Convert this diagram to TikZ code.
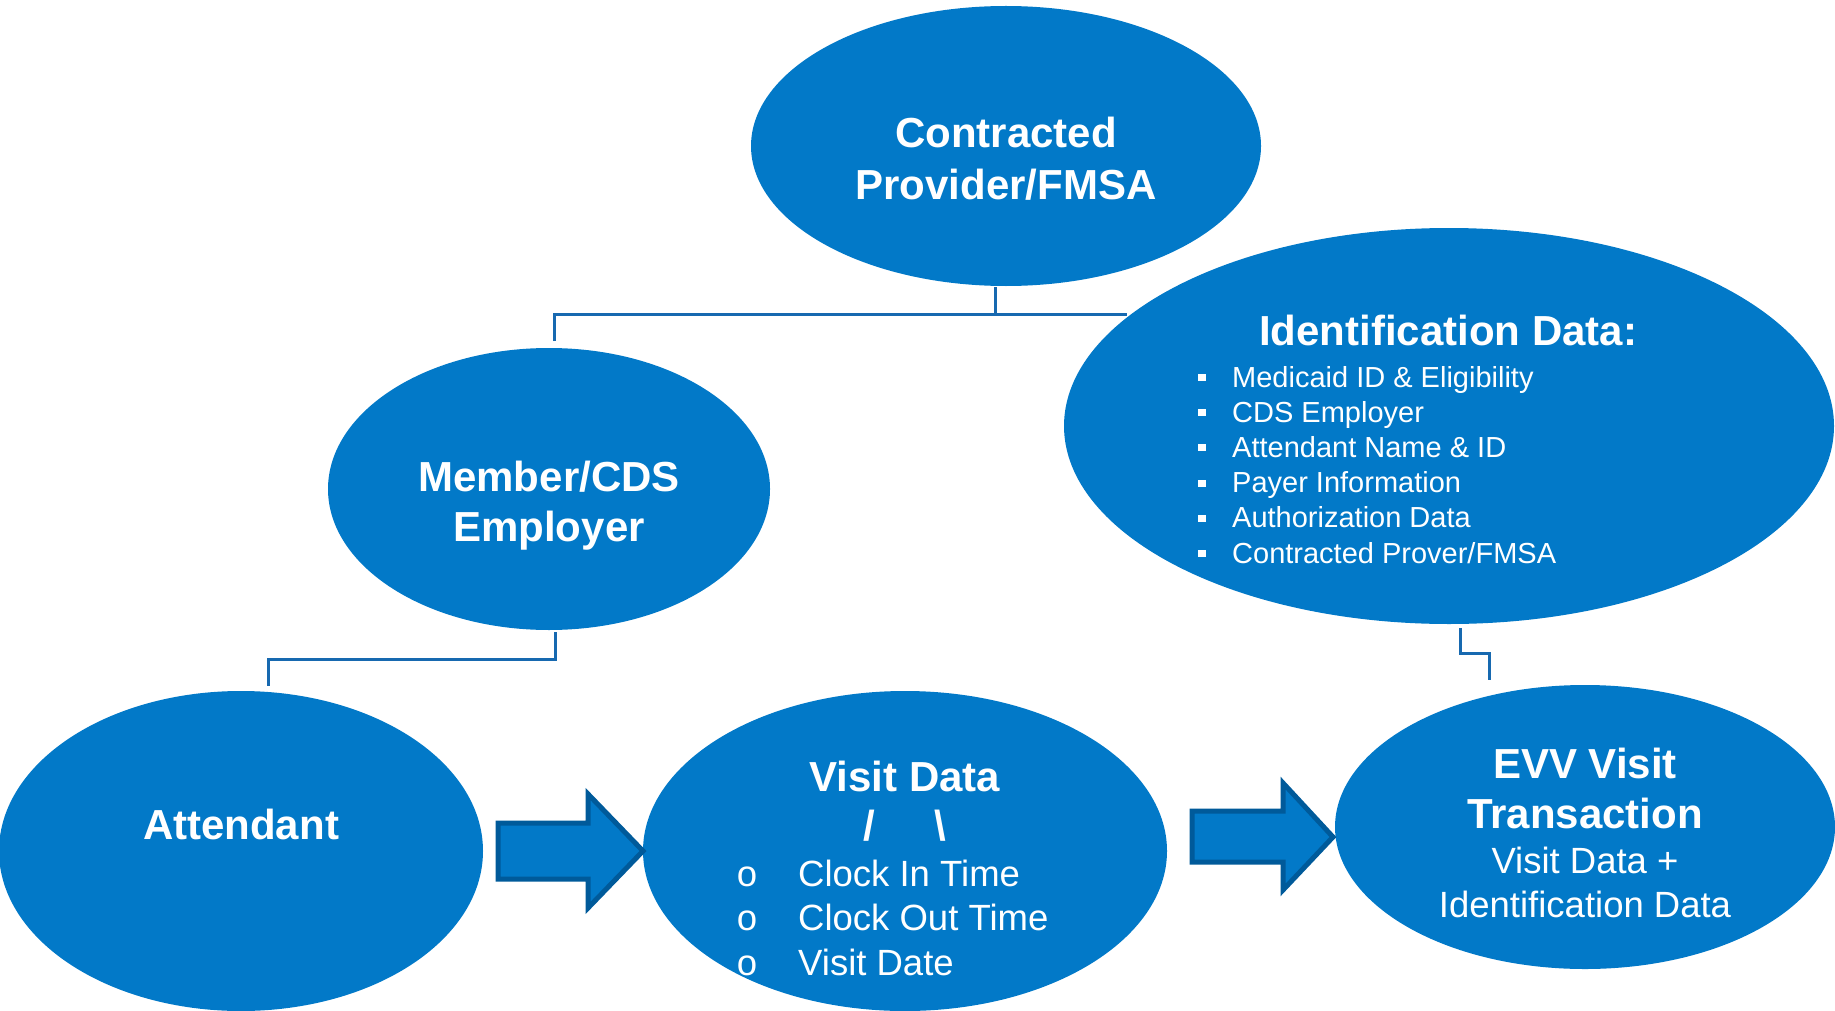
\documentclass[tikz,border=0pt]{standalone}
\usepackage{fontspec}
\setmainfont{Liberation Sans}
\newfontfamily\monof{Liberation Mono}
\usetikzlibrary{shapes.geometric}
\definecolor{ellblue}{HTML}{0279C8}
\definecolor{arrowedge}{HTML}{005A9A}
\definecolor{connblue}{HTML}{1769B0}
\begin{document}
\begin{tikzpicture}[x=1pt,y=-1pt,
  ell/.style={ellipse, fill=ellblue, draw=none, inner sep=0pt},
  conn/.style={draw=connblue, line width=3pt},
  blockarrow/.style={fill=ellblue, draw=arrowedge, line width=5pt, line join=miter},
  ttl/.style={text=white, font=\fontsize{42}{50}\selectfont\bfseries, anchor=base, inner sep=0pt},
  body/.style={text=white, font=\fontsize{36.5}{44}\selectfont, anchor=base, inner sep=0pt},
  bodyw/.style={text=white, font=\fontsize{36.5}{44}\selectfont, anchor=base west, inner sep=0pt},
  item/.style={text=white, font=\fontsize{29}{35}\selectfont, anchor=base west, inner sep=0pt}]
\useasboundingbox (0,0) rectangle (1835,1011);

% connectors (drawn first, behind the ellipses)
\coordinate (cpdrop) at (995,287);
\coordinate (cpjoin) at (995,314);
\coordinate (cpright) at (1127,314);
\coordinate (memtop) at (554,341);
\coordinate (memdrop) at (555,632);
\coordinate (attjoin) at (268,659);
\coordinate (atttop) at (268,686);
\coordinate (iddrop) at (1460,628);
\coordinate (idjoin) at (1489,653);
\coordinate (evvtop) at (1489,680);
\draw[conn] (cpdrop) -- (cpjoin);
\draw[conn] (memtop) |- (cpright);
\draw[conn] (memdrop) |- (attjoin) -- (atttop);
\draw[conn] (iddrop) |- (idjoin) -- (evvtop);

% ellipses
\node[ell, minimum width=510pt, minimum height=280pt] (cp) at (1006,146) {};
\node[ell, minimum width=770pt, minimum height=396pt] (id) at (1449,426) {};
\node[ell, minimum width=442pt, minimum height=282pt] (mem) at (549,489) {};
\node[ell, minimum width=484pt, minimum height=320pt] (att) at (241,851) {};
\node[ell, minimum width=524pt, minimum height=320pt] (vd) at (905,851) {};
\node[ell, minimum width=500pt, minimum height=284pt] (evv) at (1585,827) {};

% block arrows
\draw[blockarrow] (498,823) -- (588,823) -- (588,794) -- (643,851) -- (588,908) -- (588,879) -- (498,879) -- cycle;
\draw[blockarrow] (1192,811) -- (1283,811) -- (1283,783) -- (1333,837) -- (1283,890) -- (1283,862) -- (1192,862) -- cycle;

% texts
\node[ttl] (cpt1) at (1006,148) {Contracted};
\node[ttl] (cpt2) at (1006,200) {Provider/FMSA};

\node[ttl] (memt1) at (549,491) {Member/CDS};
\node[ttl] (memt2) at (549,541) {Employer};

\node[ttl] (attt) at (241,839) {Attendant};

\node[ttl] (idt) at (1448,345) {Identification Data:};
\node[item] (id1) at (1198,387.0) {\rule[6pt]{8pt}{7pt}\hspace{26pt}Medicaid ID \& Eligibility};
\node[item] (id2) at (1198,422.2) {\rule[6pt]{8pt}{7pt}\hspace{26pt}CDS Employer};
\node[item] (id3) at (1198,457.4) {\rule[6pt]{8pt}{7pt}\hspace{26pt}Attendant Name \& ID};
\node[item] (id4) at (1198,492.6) {\rule[6pt]{8pt}{7pt}\hspace{26pt}Payer Information};
\node[item] (id5) at (1198,527.8) {\rule[6pt]{8pt}{7pt}\hspace{26pt}Authorization Data};
\node[item] (id6) at (1198,563.0) {\rule[6pt]{8pt}{7pt}\hspace{26pt}Contracted Prover/FMSA};

\node[ttl] (vdt) at (905,791) {Visit Data};
\node[ttl] (vds) at (905,840) {/\hspace{60pt}\textbackslash};
\node[bodyw] (vd1) at (736,886) {\makebox[62pt][l]{\monof o}Clock In Time};
\node[bodyw] (vd2) at (736,930) {\makebox[62pt][l]{\monof o}Clock Out Time};
\node[bodyw] (vd3) at (736,975) {\makebox[62pt][l]{\monof o}Visit Date};

\node[ttl] (evt1) at (1585,778) {EVV Visit};
\node[ttl] (evt2) at (1585,828) {Transaction};
\node[body] (evt3) at (1585,873) {Visit Data +};
\node[body] (evt4) at (1585,917) {Identification Data};
\end{tikzpicture}
\end{document}
